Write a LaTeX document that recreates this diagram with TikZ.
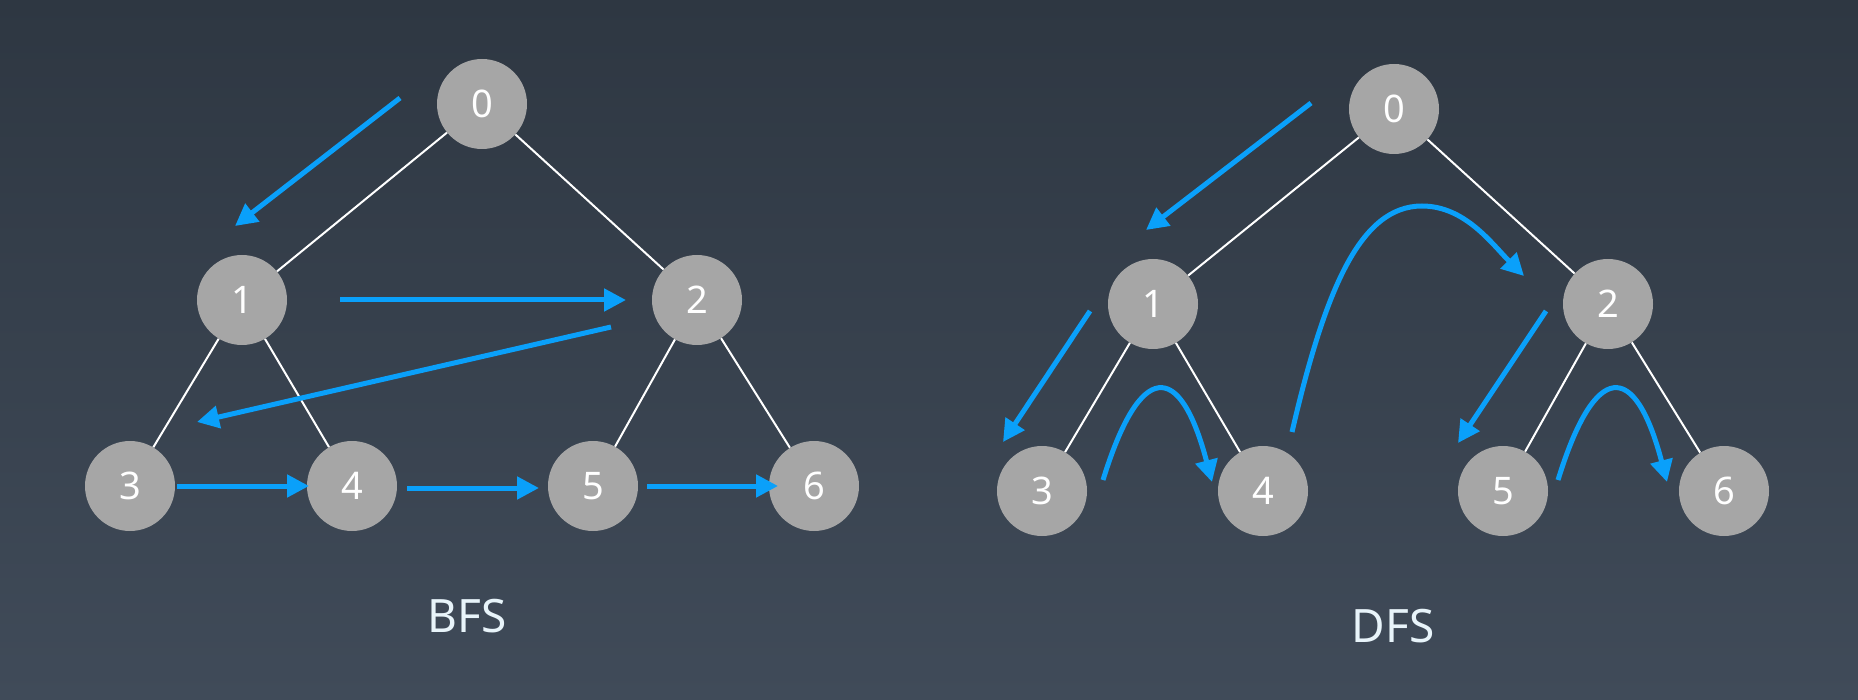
\documentclass[tikz,border=0pt]{standalone}
\usepackage{fontspec}
\setmainfont{Noto Sans}
\usetikzlibrary{arrows.meta}
\definecolor{bgtop}{RGB}{46,55,66}
\definecolor{bgbot}{RGB}{64,75,89}
\definecolor{nodegray}{RGB}{166,166,166}
\definecolor{arrowblue}{RGB}{10,160,250}
\definecolor{labeltxt}{RGB}{232,244,250}
\begin{document}
\begin{tikzpicture}[x=1pt,y=-1pt,
 vert/.style={circle,fill=nodegray,minimum size=90pt,inner sep=0pt,text=white,font=\fontsize{38}{38}\selectfont},
 edge/.style={white,line width=2pt},
 trav/.style={arrowblue,line width=5pt,-{Triangle[length=22pt,width=22pt]}},
 title/.style={text=labeltxt,font=\fontsize{46}{46}\selectfont}]
\shade[top color=bgtop,bottom color=bgbot] (0,0) rectangle (1858,700);
\useasboundingbox (0,0) rectangle (1858,700);
% BFS tree
\node[vert] (b0) at (482,104) {0};
\node[vert] (b1) at (242,300) {1};
\node[vert] (b2) at (697,300) {2};
\node[vert] (b3) at (130,486) {3};
\node[vert] (b4) at (352,486) {4};
\node[vert] (b5) at (593,486) {5};
\node[vert] (b6) at (814,486) {6};
\draw[edge] (b0) -- (b1);
\draw[edge] (b0) -- (b2);
\draw[edge] (b1) -- (b3);
\draw[edge] (b1) -- (b4);
\draw[edge] (b2) -- (b5);
\draw[edge] (b2) -- (b6);
% DFS tree
\node[vert] (d0) at (1394,109) {0};
\node[vert] (d1) at (1153,304) {1};
\node[vert] (d2) at (1608,304) {2};
\node[vert] (d3) at (1042,491) {3};
\node[vert] (d4) at (1263,491) {4};
\node[vert] (d5) at (1503,491) {5};
\node[vert] (d6) at (1724,491) {6};
\draw[edge] (d0) -- (d1);
\draw[edge] (d0) -- (d2);
\draw[edge] (d1) -- (d3);
\draw[edge] (d1) -- (d4);
\draw[edge] (d2) -- (d5);
\draw[edge] (d2) -- (d6);
% BFS traversal arrows
\coordinate (ba1) at (400,98);  \coordinate (ba2) at (235,226);
\coordinate (bb1) at (340,300); \coordinate (bb2) at (626,300);
\coordinate (bc1) at (611,327); \coordinate (bc2) at (197,422);
\coordinate (bd1) at (177,486); \coordinate (bd2) at (309,486);
\coordinate (be1) at (407,488); \coordinate (be2) at (539,488);
\coordinate (bf1) at (647,486); \coordinate (bf2) at (778,486);
\draw[trav] (ba1) -- (ba2);
\draw[trav] (bb1) -- (bb2);
\draw[trav] (bc1) -- (bc2);
\draw[trav] (bd1) -- (bd2);
\draw[trav] (be1) -- (be2);
\draw[trav] (bf1) -- (bf2);
% DFS traversal arrows
\coordinate (da1) at (1311,103); \coordinate (da2) at (1146,230);
\coordinate (db1) at (1090,311); \coordinate (db2) at (1003,442);
\coordinate (dc1) at (1103,480); \coordinate (dc2) at (1212,482);
\coordinate (dd1) at (1292,432); \coordinate (dd2) at (1524,276);
\coordinate (ddtop) at (1422,206);
\coordinate (de1) at (1546,311); \coordinate (de2) at (1458,443);
\coordinate (df1) at (1558,480); \coordinate (df2) at (1667,482);
\draw[trav] (da1) -- (da2);
\draw[trav] (db1) -- (db2);
\draw[trav] (dc1) .. controls (1140,360) and (1180,360) .. (dc2);
\draw[trav] (dd1) .. controls (1325,290) and (1360,206) .. (ddtop)
  .. controls (1465,206) and (1492,244) .. (dd2);
\draw[trav] (de1) -- (de2);
\draw[trav] (df1) .. controls (1595,360) and (1635,360) .. (df2);
% titles
\node[title] (tb) at (467,616) {BFS};
\node[title] (td) at (1393,626) {DFS};
\end{tikzpicture}
\end{document}
